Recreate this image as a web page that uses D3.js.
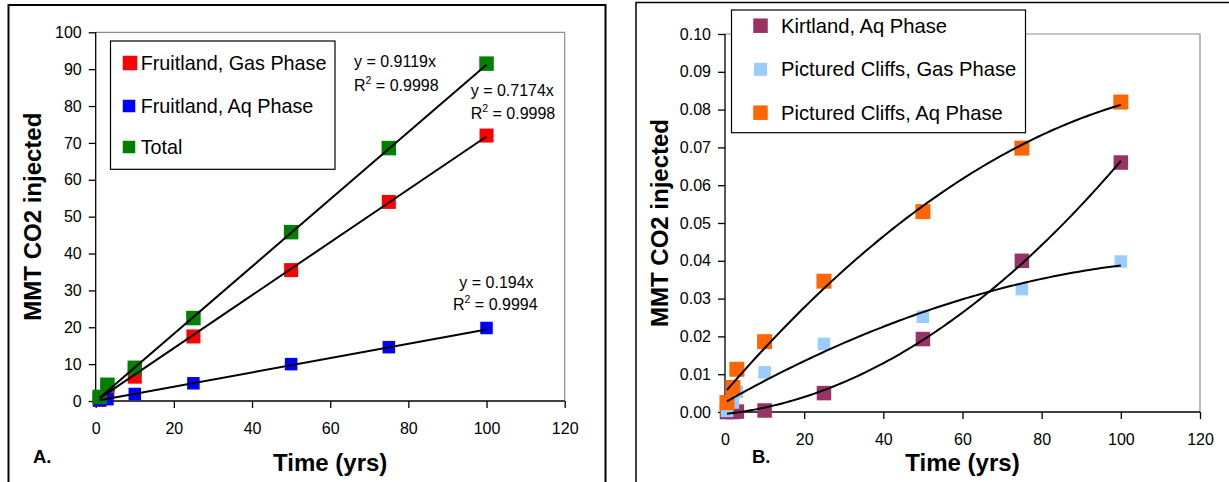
<!DOCTYPE html>
<html>
<head>
<meta charset="utf-8">
<script src="https://cdn.jsdelivr.net/npm/d3@7"></script>
<style>
  html, body { margin: 0; padding: 0; background: #fff; }
  svg { display: block; }
  text { font-family: "Liberation Sans", Arial, sans-serif; fill: #000; }
</style>
</head>
<body>
<svg id="chart" width="1229" height="482"></svg>
<script>
// ---- Panel A: Fruitland (MMT CO2 vs time) ----
const timesA = [1, 3, 10, 25, 50, 75, 100];
const fruitlandGas = [0.3, 2.5, 6.6, 17.5, 35.5, 54, 72];
const fruitlandAq = [0.2, 0.5, 1.9, 4.8, 10, 14.6, 19.8];
const fruitlandTotal = [1.1, 4.4, 9.0, 22.5, 45.8, 68.6, 91.5];
const seriesNamesA = ["Fruitland, Gas Phase", "Fruitland, Aq Phase", "Total"];
const seriesColorsA = ["#ff0000", "#0000ff", "#008000"];
// linear trendlines through the origin
const fitSlopesA = [0.7174, 0.194, 0.9119];
const fitR2A = ["0.9998", "0.9994", "0.9998"];
const fitSlopeTextA = ["0.7174", "0.194", "0.9119"];

// ---- Panel B: Kirtland / Pictured Cliffs ----
const timesB = [0.5, 2, 3, 10, 25, 50, 75, 100];
const kirtlandAq = [0, 0, 0.0001, 0.0004, 0.005, 0.0193, 0.040, 0.066];
const picturedGas = [0.0003, 0.0025, 0.0054, 0.0105, 0.018, 0.0252, 0.0325, 0.0398];
const picturedAq = [0.0025, 0.0065, 0.0113, 0.0186, 0.0346, 0.053, 0.0698, 0.082];
const seriesNamesB = ["Kirtland, Aq Phase", "Pictured Cliffs, Gas Phase", "Pictured Cliffs, Aq Phase"];
const seriesColorsB = ["#993366", "#99ccff", "#ff6600"];

const xTicks = [0, 20, 40, 60, 80, 100, 120];
const yTicksA = [0, 10, 20, 30, 40, 50, 60, 70, 80, 90, 100];
const yTicksB = [0, 0.01, 0.02, 0.03, 0.04, 0.05, 0.06, 0.07, 0.08, 0.09, 0.10];
const xTitle = "Time (yrs)";
const yTitle = "MMT CO2 injected";

const svg = d3.select("#chart");
svg.append("rect").attr("width", 1229).attr("height", 482).attr("fill", "#fff");

// outer chart frames
svg.append("rect").attr("x", 8.5).attr("y", 5).attr("width", 597).attr("height", 500)
  .attr("fill", "none").attr("stroke", "#000").attr("stroke-width", 2);
svg.append("rect").attr("x", 636).attr("y", 2.5).attr("width", 620).attr("height", 500)
  .attr("fill", "none").attr("stroke", "#000").attr("stroke-width", 1.5);

// least-squares polynomial fit
function polyFit(xs, ys, order) {
  const n = order + 1;
  const M = Array.from({length: n}, () => new Array(n + 1).fill(0));
  xs.forEach((x, k) => {
    for (let i = 0; i < n; i++) {
      for (let j = 0; j < n; j++) M[i][j] += Math.pow(x, i + j);
      M[i][n] += ys[k] * Math.pow(x, i);
    }
  });
  for (let c = 0; c < n; c++) {
    let p = c;
    for (let r = c + 1; r < n; r++) if (Math.abs(M[r][c]) > Math.abs(M[p][c])) p = r;
    [M[c], M[p]] = [M[p], M[c]];
    for (let r = 0; r < n; r++) {
      if (r === c) continue;
      const f = M[r][c] / M[c][c];
      for (let k = c; k <= n; k++) M[r][k] -= f * M[c][k];
    }
  }
  return M.map((row, i) => row[n] / row[i]);
}

function drawPanel(cfg) {
  const g = svg.append("g");
  const x = d3.scaleLinear().domain([0, 120]).range([cfg.left, cfg.right]);
  const y = d3.scaleLinear().domain([0, cfg.yMax]).range([cfg.bottom, cfg.top]);

  // plot-area frame (grey top and right edges)
  g.append("path")
    .attr("d", `M${cfg.left},${cfg.top}H${cfg.right}V${cfg.bottom}`)
    .attr("fill", "none").attr("stroke", "#8c8c8c").attr("stroke-width", 1.2);

  const xAxis = g.append("g").attr("transform", `translate(0,${cfg.bottom})`)
    .call(d3.axisBottom(x).tickValues(xTicks).tickSize(7).tickPadding(15).tickFormat(d3.format("d")));
  const yAxis = g.append("g").attr("transform", `translate(${cfg.left},0)`)
    .call(d3.axisLeft(y).tickValues(cfg.yTicks).tickSize(7).tickPadding(7).tickFormat(cfg.yFmt));
  [xAxis, yAxis].forEach(a => {
    a.selectAll("path, line").attr("stroke", "#000").attr("stroke-width", 1.3);
    a.selectAll("text").attr("font-size", 16).attr("font-family", '"Liberation Sans", Arial, sans-serif').attr("fill", "#000");
  });
  xAxis.select(".domain").attr("d", `M${cfg.left},0H${cfg.right}`);
  yAxis.select(".domain").attr("d", `M0,${cfg.top}V${cfg.bottom}`);

  // axis titles
  g.append("text").attr("x", (cfg.left + cfg.right) / 2).attr("y", cfg.xTitleY)
    .attr("text-anchor", "middle").attr("font-weight", "bold").attr("font-size", 24).text(xTitle);
  g.append("text").attr("transform", `translate(${cfg.yTitleX},${(cfg.top + cfg.bottom) / 2}) rotate(-90)`)
    .attr("text-anchor", "middle").attr("font-weight", "bold").attr("font-size", 24).text(yTitle);
  g.append("text").attr("x", cfg.tagX).attr("y", cfg.tagY)
    .attr("font-weight", "bold").attr("font-size", 18.5).text(cfg.tag);

  return {g, x, y};
}

// ---------- Panel A ----------
const A = drawPanel({
  left: 95.7, right: 564.7, top: 32.3, bottom: 401, yMax: 100,
  yTicks: yTicksA, yFmt: d3.format("d"), xTitleY: 471,
  yTitleX: 41, tag: "A.", tagX: 33, tagY: 463
});
const seriesA = [fruitlandGas, fruitlandAq, fruitlandTotal];
const markerSizeA = [14, 12.5, 14.5];

// markers (drawn in series order: gas, aq, total)
seriesA.forEach((s, i) => {
  const sz = markerSizeA[i];
  A.g.append("g").selectAll("rect").data(s).join("rect")
    .attr("x", (d, k) => A.x(timesA[k]) - sz / 2)
    .attr("y", d => A.y(d) - sz / 2)
    .attr("width", sz).attr("height", sz)
    .attr("fill", seriesColorsA[i]);
});
// linear trendlines over the data range
const tExtentA = d3.extent(timesA);
seriesA.forEach((s, i) => {
  A.g.append("line")
    .attr("x1", A.x(tExtentA[0])).attr("y1", A.y(fitSlopesA[i] * tExtentA[0]))
    .attr("x2", A.x(tExtentA[1])).attr("y2", A.y(fitSlopesA[i] * tExtentA[1]))
    .attr("stroke", "#000").attr("stroke-width", 2);
});

// trendline equations
const eqPosA = [[470.7, 95.5, 470.7, 118.5], [459.3, 287.5, 453, 310], [354, 67, 354, 90.5]];
seriesA.forEach((s, i) => {
  const p = eqPosA[i];
  A.g.append("text").attr("x", p[0]).attr("y", p[1]).attr("font-size", 16)
    .text(`y = ${fitSlopeTextA[i]}x`);
  const r = A.g.append("text").attr("x", p[2]).attr("y", p[3]).attr("font-size", 16);
  r.append("tspan").text("R");
  r.append("tspan").attr("font-size", 10.5).attr("dy", -7).text("2");
  r.append("tspan").attr("dy", 7).text(` = ${fitR2A[i]}`);
});

// legend A
const legA = A.g.append("g");
legA.append("rect").attr("x", 110.5).attr("y", 41).attr("width", 224.5).attr("height", 128.3)
  .attr("fill", "#fff").attr("stroke", "#000").attr("stroke-width", 1.2);
const legRowsA = [63, 106, 147];
seriesNamesA.forEach((name, i) => {
  const sz = i === 0 ? 14.5 : 12.5;
  legA.append("rect").attr("x", 129.5 - sz / 2 + (i === 0 ? 0.5 : -0.5)).attr("y", legRowsA[i] - sz / 2)
    .attr("width", sz).attr("height", sz).attr("fill", seriesColorsA[i]);
  legA.append("text").attr("x", 140.7).attr("y", legRowsA[i] + 7).attr("font-size", 19.8).text(name);
});

// ---------- Panel B ----------
const B = drawPanel({
  left: 725, right: 1200, top: 34, bottom: 412, yMax: 0.10,
  yTicks: yTicksB, yFmt: d3.format(".2f"), xTitleY: 471,
  yTitleX: 668, tag: "B.", tagX: 752, tagY: 462.7
});
const seriesB = [kirtlandAq, picturedGas, picturedAq];
const markerSizeB = [14.5, 12.5, 15];

seriesB.forEach((s, i) => {
  const sz = markerSizeB[i];
  B.g.append("g").selectAll("rect").data(s).join("rect")
    .attr("x", (d, k) => B.x(timesB[k]) - sz / 2)
    .attr("y", d => B.y(d) - sz / 2)
    .attr("width", sz).attr("height", sz)
    .attr("fill", seriesColorsB[i]);
});
// second-order polynomial trendlines
const tExtentB = d3.extent(timesB);
const line = d3.line().x(d => B.x(d[0])).y(d => B.y(d[1]));
seriesB.forEach(s => {
  const c = polyFit(timesB, s, 2);
  const pts = d3.range(0, 101).map(k => {
    const t = tExtentB[0] + (tExtentB[1] - tExtentB[0]) * k / 100;
    return [t, c[0] + c[1] * t + c[2] * t * t];
  });
  B.g.append("path").attr("d", line(pts)).attr("fill", "none")
    .attr("stroke", "#000").attr("stroke-width", 2);
});

// legend B
const legB = B.g.append("g");
legB.append("rect").attr("x", 731.5).attr("y", 10).attr("width", 294).attr("height", 122.7)
  .attr("fill", "#fff").attr("stroke", "#000").attr("stroke-width", 1.2);
const legRowsB = [25.7, 69.3, 112.7];
seriesNamesB.forEach((name, i) => {
  const sz = i === 1 ? 13 : 14.5;
  legB.append("rect").attr("x", 760.5 - sz / 2).attr("y", legRowsB[i] - sz / 2)
    .attr("width", sz).attr("height", sz).attr("fill", seriesColorsB[i]);
  legB.append("text").attr("x", 781).attr("y", legRowsB[i] + 7).attr("font-size", 20.2).text(name);
});
</script>
</body>
</html>
